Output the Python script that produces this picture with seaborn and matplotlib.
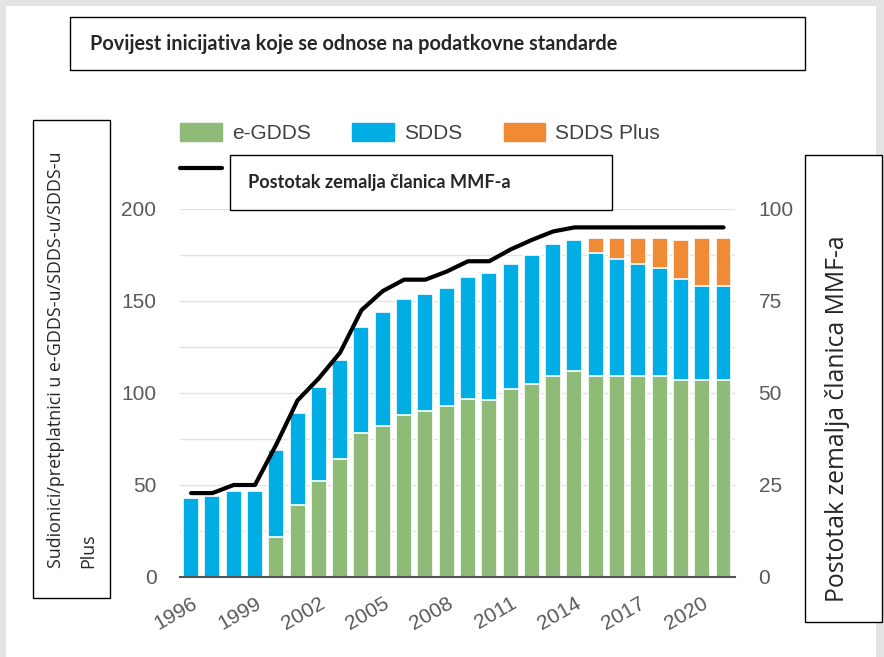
import numpy as np
import pandas as pd
import matplotlib
matplotlib.use("Agg")
import matplotlib.pyplot as plt
import seaborn as sns
from matplotlib.patches import Patch, Rectangle
from matplotlib.lines import Line2D

# data
years = list(range(1996, 2022))
egdds = [0, 0, 0, 0, 22, 39, 52, 64, 78, 82, 88, 90, 93, 97, 96, 102, 105, 109, 112,
         109, 109, 109, 109, 107, 107, 107]
sdds = [43, 44, 47, 47, 47, 50, 51, 54, 58, 62, 63, 64, 64, 66, 69, 68, 70, 72, 71,
        67, 64, 61, 59, 55, 51, 51]
sdds_plus = [0] * 19 + [8, 11, 14, 16, 21, 26, 26]
pct_imf = [22.8, 22.8, 25, 25, 36, 48, 54, 61, 72.5, 77.7, 80.8, 80.8, 83, 85.8, 85.8,
           89, 91.6, 93.9, 95, 95, 95, 95, 95, 95, 95, 95]
tick_years = years[::3]

green, blue, orange = "#8EBB77", "#00ADE4", "#F08A35"
tick_grey = "#595959"

df = pd.DataFrame({"year": years, "egdds": egdds, "sdds": sdds, "plus": sdds_plus})
df["top_sdds"] = df["egdds"] + df["sdds"]
df["top_plus"] = df["top_sdds"] + df["plus"]
pos = np.arange(len(years))

sns.set_style("white")
plt.rcParams["font.family"] = ["Liberation Sans", "DejaVu Sans"]

W, H = 884, 657
fig = plt.figure(figsize=(W / 100, H / 100), dpi=100, facecolor="#e4e4e4")
fig.patches.append(Rectangle((6 / W, 0), 870 / W, 1 - 6 / H, transform=fig.transFigure,
                             facecolor="white", edgecolor="none", zorder=-10))

ax = fig.add_axes([180 / W, 1 - 577 / H, 555 / W, 368 / H])

# stacked bars: draw cumulative totals from the top down
for col, c in [("top_plus", orange), ("top_sdds", blue), ("egdds", green)]:
    sns.barplot(data=df, x="year", y=col, color=c, saturation=1, width=0.75,
                edgecolor="white", linewidth=1.2, errorbar=None, ax=ax)

ax.set_ylim(0, 200)
ax.set_yticks(np.arange(0, 201, 50))
ax.set_yticks(np.arange(0, 201, 25), minor=True)
ax.yaxis.grid(True, which="both", color="#e2e2e2", lw=1)
ax.set_axisbelow(True)
ax.tick_params(axis="y", which="both", length=0, pad=17, labelsize=15, colors=tick_grey)
ax.set_xticks(pos[::3])
ax.set_xticklabels(tick_years, rotation=30, ha="right", va="top", rotation_mode="anchor")
ax.tick_params(axis="x", length=0, pad=12, labelsize=15, colors=tick_grey)
ax.set_xlabel("")
ax.set_ylabel("")
for s in ["top", "left", "right"]:
    ax.spines[s].set_visible(False)
ax.spines["bottom"].set_color("#555555")
ax.spines["bottom"].set_linewidth(1.5)
ax.spines["bottom"].set_zorder(5)

ax2 = ax.twinx()
sns.lineplot(x=pos, y=pct_imf, color="black", lw=3, ax=ax2)
ax2.set_ylim(0, 100)
ax2.set_yticks(np.arange(0, 101, 25))
ax2.tick_params(axis="y", length=0, pad=17, labelsize=15, colors=tick_grey)
for s in ax2.spines.values():
    s.set_visible(False)
ax.set_xlim(-0.52, 25.54)

# legend
leg = fig.legend(handles=[Patch(color=green, label="e-GDDS"), Patch(color=blue, label="SDDS"),
                          Patch(color=orange, label="SDDS Plus")],
                 loc="upper left", bbox_to_anchor=(180 / W, 1 - 123 / H), ncol=3,
                 frameon=False, fontsize=15, handlelength=2.0, handleheight=0.96,
                 handletextpad=0.48, columnspacing=2.0, borderpad=0, borderaxespad=0,
                 labelcolor="#404040")
fig.legend(handles=[Line2D([], [], color="black", lw=3)], labels=[""],
           loc="upper left", bbox_to_anchor=(180 / W, 1 - 160 / H), frameon=False,
           fontsize=15, handlelength=2.0, borderpad=0, borderaxespad=0)

# boxes with text
def box(x0, y0, x1, y1):
    fig.patches.append(Rectangle((x0 / W, 1 - y1 / H), (x1 - x0) / W, (y1 - y0) / H,
                                 transform=fig.transFigure, facecolor="white",
                                 edgecolor="black", lw=1, zorder=3))

box(70, 17, 805, 70)
fig.text(90 / W, 1 - 44 / H, "Povijest inicijativa koje se odnose na podatkovne standarde",
         family="Lato", weight="bold", fontsize=14.3, va="center", ha="left", zorder=4)

box(230, 155, 612, 210)
fig.text(248 / W, 1 - 183 / H, "Postotak zemalja članica MMF-a", family="Lato",
         weight="bold", fontsize=13.1, va="center", ha="left", zorder=4)

box(33, 120, 110, 598)
fig.text(72 / W, 1 - 568 / H, "Sudionici/pretplatnici u e-GDDS-u/SDDS-u/SDDS-u\nPlus",
         family="Open Sans", fontsize=12.85, rotation=90, ha="center", va="bottom",
         multialignment="left", linespacing=2.05, zorder=4)

box(805, 155, 882, 622)
fig.text(838 / W, 1 - 602 / H, "Postotak zemalja članica MMF-a", family="Open Sans",
         fontsize=17.8, rotation=90, ha="center", va="bottom", zorder=4)

fig.savefig("out.png", dpi=100, facecolor=fig.get_facecolor())
